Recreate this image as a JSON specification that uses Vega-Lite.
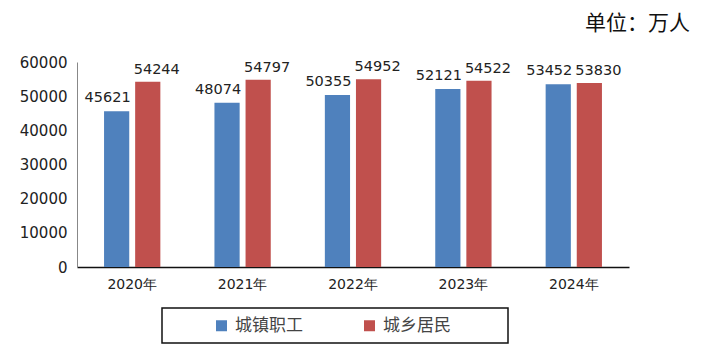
{
  "$schema": "https://vega.github.io/schema/vega-lite/v6.json",
  "autosize": {"type": "none"},
  "width": 552,
  "height": 205,
  "padding": {"left": 77, "top": 62, "right": 75, "bottom": 95},
  "background": "white",
  "title": {
    "text": "单位：万人",
    "anchor": "end",
    "frame": "group",
    "orient": "top",
    "dx": 61,
    "offset": 21,
    "font": "Noto Sans CJK SC",
    "fontSize": 21,
    "fontWeight": "normal",
    "color": "#111"
  },
  "data": {
    "values": [
      {"year": "2020年", "type": "城镇职工", "value": 45621},
      {"year": "2020年", "type": "城乡居民", "value": 54244},
      {"year": "2021年", "type": "城镇职工", "value": 48074},
      {"year": "2021年", "type": "城乡居民", "value": 54797},
      {"year": "2022年", "type": "城镇职工", "value": 50355},
      {"year": "2022年", "type": "城乡居民", "value": 54952},
      {"year": "2023年", "type": "城镇职工", "value": 52121},
      {"year": "2023年", "type": "城乡居民", "value": 54522},
      {"year": "2024年", "type": "城镇职工", "value": 53452},
      {"year": "2024年", "type": "城乡居民", "value": 53830}
    ]
  },
  "encoding": {
    "x": {
      "field": "year",
      "type": "nominal",
      "scale": {"paddingInner": 0.49, "paddingOuter": 0.245},
      "axis": {
        "title": null,
        "labelAngle": 0,
        "ticks": false,
        "domainColor": "#111",
        "domainWidth": 1.5,
        "labelFont": "DejaVu Sans",
        "labelFontSize": 14,
        "labelColor": "#222",
        "labelPadding": 10
      }
    },
    "xOffset": {
      "field": "type",
      "type": "nominal",
      "sort": ["城镇职工", "城乡居民"],
      "scale": {"paddingInner": 0.19, "paddingOuter": 0}
    },
    "y": {
      "field": "value",
      "type": "quantitative",
      "scale": {"domain": [0, 60000]},
      "axis": {
        "title": null,
        "values": [0, 10000, 20000, 30000, 40000, 50000, 60000],
        "format": "d",
        "grid": false,
        "ticks": false,
        "domainColor": "#888",
        "domainWidth": 1,
        "labelFont": "DejaVu Sans",
        "labelFontSize": 15,
        "labelColor": "#222",
        "labelPadding": 10
      }
    }
  },
  "layer": [
    {
      "mark": {"type": "bar"},
      "encoding": {
        "color": {
          "field": "type",
          "type": "nominal",
          "scale": {"domain": ["城镇职工", "城乡居民"], "range": ["#4F81BD", "#C0504D"]},
          "legend": {
            "orient": "none",
            "legendX": 85,
            "legendY": 246,
            "direction": "horizontal",
            "title": "城镇",
            "titleOpacity": 0,
            "titleOrient": "left",
            "titleFont": "Noto Sans CJK SC",
            "titleFontSize": 17,
            "titleFontWeight": "normal",
            "titlePadding": 8,
            "labelExpr": "datum.label + '\u2800\u2800\u2800\u2800'",
            "labelFont": "Noto Sans CJK SC",
            "labelFontSize": 17,
            "labelColor": "#444",
            "labelOffset": 5,
            "labelLimit": 300,
            "symbolType": "square",
            "symbolSize": 121,
            "symbolStrokeWidth": 0,
            "columnPadding": 10,
            "padding": 9,
            "strokeColor": "#111"
          }
        }
      }
    },
    {
      "transform": [{"filter": "datum.type === '城镇职工'"}],
      "mark": {"type": "text", "dx": -9, "dy": -9, "baseline": "alphabetic", "font": "DejaVu Sans", "fontSize": 14.5, "color": "#222"},
      "encoding": {"text": {"field": "value", "type": "quantitative", "format": "d"}}
    },
    {
      "transform": [{"filter": "datum.type === '城乡居民'"}],
      "mark": {"type": "text", "dx": 9, "dy": -8, "baseline": "alphabetic", "font": "DejaVu Sans", "fontSize": 14.5, "color": "#222"},
      "encoding": {"text": {"field": "value", "type": "quantitative", "format": "d"}}
    }
  ],
  "config": {"view": {"stroke": null}, "legend": {"strokeWidth": 1.5}}
}
